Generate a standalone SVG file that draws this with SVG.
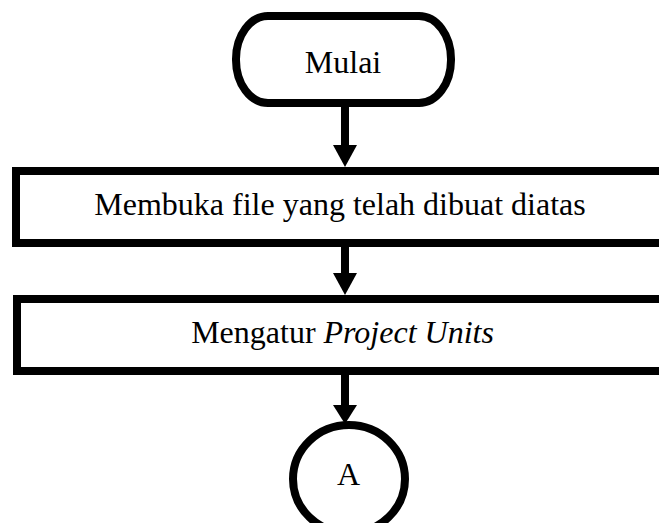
<svg xmlns="http://www.w3.org/2000/svg" width="659" height="523" viewBox="0 0 659 523">
  <style>
    .shape { fill: #ffffff; stroke: #000000; stroke-width: 8; }
    .label { font-family: "Liberation Serif", "Times New Roman", serif; font-size: 32px; fill: #000000; text-anchor: middle; }
    .flow { stroke: #000000; stroke-width: 8; fill: none; }
    .head { fill: #000000; stroke: none; }
  </style>
  <rect x="0" y="0" width="659" height="523" fill="#ffffff"/>

  <!-- connectors -->
  <g id="connectors">
    <line class="flow" x1="345" y1="105" x2="345" y2="147"/>
    <polygon class="head" points="333,145 357,145 345,167"/>
    <line class="flow" x1="345" y1="246" x2="345" y2="275"/>
    <polygon class="head" points="333,273 357,273 345,295"/>
    <line class="flow" x1="345" y1="374" x2="345" y2="407"/>
    <polygon class="head" points="333,405 357,405 345,424"/>
  </g>

  <!-- start terminal -->
  <g id="start">
    <rect class="shape" x="236" y="16" width="215" height="87" rx="32" ry="43"/>
    <text class="label" x="343" y="73">Mulai</text>
  </g>

  <!-- step 1 -->
  <g id="open-file">
    <rect class="shape" x="16" y="171" width="680" height="72"/>
    <text class="label" x="340" y="215">Membuka file yang telah dibuat diatas</text>
  </g>

  <!-- step 2 -->
  <g id="project-units">
    <rect class="shape" x="17" y="299" width="680" height="72"/>
    <text class="label" x="342.5" y="343">Mengatur <tspan font-style="italic">Project Units</tspan></text>
  </g>

  <!-- off-page connector -->
  <g id="connector-a">
    <ellipse class="shape" cx="349" cy="479" rx="56" ry="54" stroke-width="7"/>
    <text class="label" x="348.5" y="485">A</text>
  </g>
</svg>
